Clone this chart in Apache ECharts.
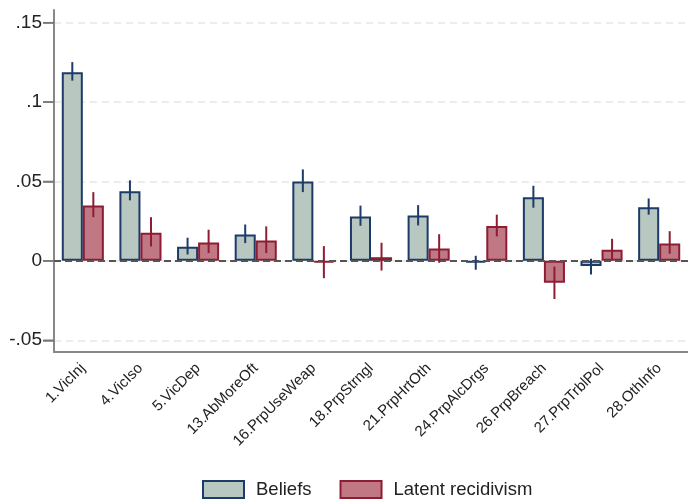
<!DOCTYPE html>
<html>
<head>
<meta charset="utf-8">
<script src="https://cdn.jsdelivr.net/npm/echarts@6/dist/echarts.min.js"></script>
<style>
  html, body { margin: 0; padding: 0; background: #fff; }
  #chart { width: 688px; height: 500px; }
</style>
</head>
<body>
<div id="chart"></div>
<script>
// Outcome categories
const categories = ['1.VicInj', '4.VicIso', '5.VicDep', '13.AbMoreOft', '16.PrpUseWeap',
  '18.PrpStrngl', '21.PrpHrtOth', '24.PrpAlcDrgs', '26.PrpBreach', '27.PrpTrblPol', '28.OthInfo'];

// Point estimates
const beliefs = [0.1188, 0.0439, 0.0089, 0.0166, 0.0500, 0.0280, 0.0286, -0.0010, 0.0400, -0.0033, 0.0338];
const latent  = [0.0349, 0.0177, 0.0116, 0.0129, -0.0010, 0.0023, 0.0078, 0.0219, -0.0138, 0.0070, 0.0110];

// Confidence intervals
const beliefsLo = [0.1135, 0.0381, 0.0040, 0.0112, 0.0433, 0.0221, 0.0223, -0.0056, 0.0335, -0.0086, 0.0291];
const beliefsHi = [0.1252, 0.0507, 0.0146, 0.0229, 0.0576, 0.0348, 0.0351, 0.0032, 0.0473, 0.0013, 0.0393];
const latentLo  = [0.0275, 0.0091, 0.0049, 0.0049, -0.0109, -0.0061, -0.0012, 0.0154, -0.0240, 0.0003, 0.0045];
const latentHi  = [0.0433, 0.0275, 0.0196, 0.0217, 0.0093, 0.0114, 0.0168, 0.0291, -0.0036, 0.0139, 0.0187];

// Y axis ticks
const yTicks = [-0.05, 0, 0.05, 0.1, 0.15];
const yMin = -0.0574, yMax = 0.158;

const FONT = 'Arial, "Liberation Sans", sans-serif';
const NAVY = '#1c3b68', MAROON = '#8e1d33';
const GAP = 0.27; // category gap fraction

function fmtY(v) {
  let s = String(+(+v).toFixed(3));
  s = s.replace(/^0\./, '.').replace(/^-0\./, '-.');
  return s;
}

function errorBars(lo, hi, side, color) {
  return {
    type: 'custom',
    silent: true,
    z: 5,
    data: categories.map((c, i) => [i, lo[i], hi[i]]),
    encode: { x: 0, y: [1, 2] },
    renderItem: function (params, api) {
      const idx = api.value(0);
      const p1 = api.coord([idx, api.value(1)]);
      const p2 = api.coord([idx, api.value(2)]);
      const catW = api.size([1, 0])[0];
      const bw = catW * (1 - GAP) / 2;
      const x = p1[0] + side * bw / 2;
      return {
        type: 'line',
        shape: { x1: x, y1: p1[1], x2: x, y2: p2[1] },
        style: { stroke: color, lineWidth: 2 }
      };
    }
  };
}

// Outward tick marks on the value axis at the labelled values
const yTickMarks = {
  type: 'custom',
  silent: true,
  clip: false,
  z: 6,
  data: yTicks.map(v => [0, v]),
  encode: { x: 0, y: 1 },
  renderItem: function (params, api) {
    const y = api.coord([0, api.value(1)])[1];
    const x0 = params.coordSys.x;
    return {
      type: 'line',
      shape: { x1: x0 - 11, y1: y, x2: x0, y2: y },
      style: { stroke: '#777', lineWidth: 1.5 }
    };
  }
};

const chart = echarts.init(document.getElementById('chart'), null, { renderer: 'canvas' });

chart.setOption({
  animation: false,
  backgroundColor: '#ffffff',
  textStyle: { fontFamily: FONT },
  grid: { left: 54, right: 0, top: 10, bottom: 148, containLabel: false },
  legend: {
    left: 197,
    top: 475,
    itemWidth: 41,
    itemHeight: 17,
    itemGap: 28,
    icon: 'rect',
    textStyle: { fontFamily: FONT, fontSize: 18.5, color: '#222', padding: [0, 0, 0, 7] },
    data: ['Beliefs', 'Latent recidivism']
  },
  xAxis: {
    type: 'category',
    data: categories,
    boundaryGap: true,
    axisLine: { onZero: false, lineStyle: { color: '#888', width: 2 } },
    axisTick: { alignWithLabel: true, length: 7, lineStyle: { color: '#555', width: 2 } },
    axisLabel: { rotate: 45, fontSize: 15, color: '#222', margin: 14, fontFamily: FONT },
    splitLine: { show: false }
  },
  yAxis: {
    type: 'value',
    min: yMin,
    max: yMax,
    axisLine: { show: true, onZero: false, lineStyle: { color: '#888', width: 2 } },
    axisTick: { show: true, length: 11, customValues: yTicks, lineStyle: { color: '#777', width: 1.5 } },
    axisLabel: { customValues: yTicks, formatter: fmtY, fontSize: 19, color: '#222', margin: 12, fontFamily: FONT },
    splitLine: { show: true, lineStyle: { color: '#e6e6e6', width: 1.5, type: [7, 5] } }
  },
  series: [
    {
      name: 'Beliefs',
      type: 'bar',
      data: beliefs,
      barGap: '0%',
      barCategoryGap: (GAP * 100) + '%',
      itemStyle: { color: '#b8c8c1', borderColor: NAVY, borderWidth: 2 },
      markLine: {
        silent: true,
        symbol: 'none',
        label: { show: false },
        lineStyle: { color: '#555', type: [7, 4], width: 1.8 },
        data: [{ yAxis: 0 }]
      }
    },
    {
      name: 'Latent recidivism',
      type: 'bar',
      data: latent,
      barGap: '0%',
      barCategoryGap: (GAP * 100) + '%',
      itemStyle: { color: '#c07984', borderColor: MAROON, borderWidth: 2 }
    },
    errorBars(beliefsLo, beliefsHi, -1, NAVY),
    errorBars(latentLo, latentHi, 1, MAROON),
    yTickMarks
  ]
});
</script>
</body>
</html>
